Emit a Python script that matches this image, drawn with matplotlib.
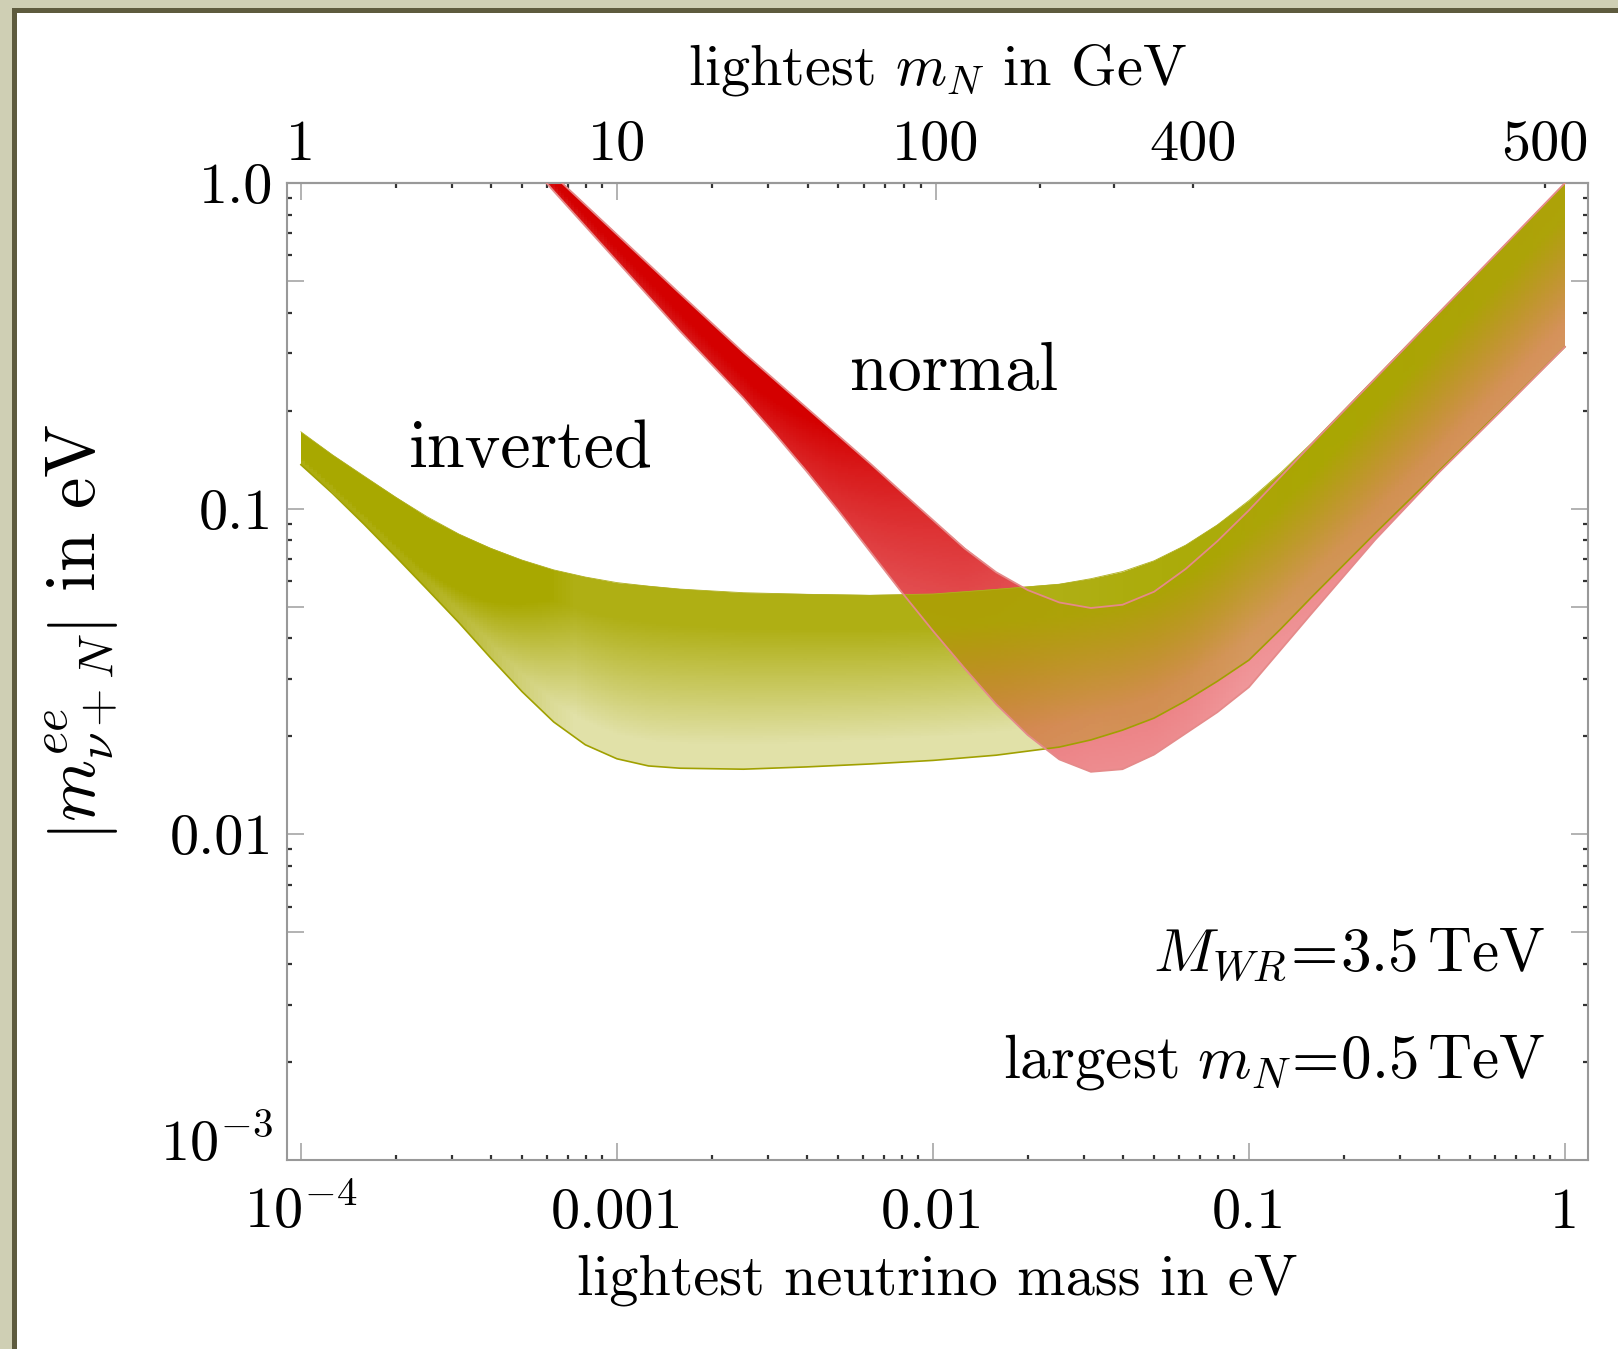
import numpy as np
import matplotlib
matplotlib.use('Agg')
import matplotlib.pyplot as plt
from matplotlib.colors import LinearSegmentedColormap
from matplotlib.patches import Rectangle

plt.rcParams['font.family'] = 'serif'
plt.rcParams['font.serif'] = ['cmr10']
plt.rcParams['mathtext.fontset'] = 'cm'
plt.rcParams['axes.unicode_minus'] = False
plt.rcParams['axes.formatter.use_mathtext'] = True

# band edges, all in log10(eV)
inv_x = [-4.0, -3.9, -3.8, -3.7, -3.6, -3.5, -3.4, -3.3, -3.2, -3.1, -3.0, -2.9, -2.8,
         -2.6, -2.4, -2.2, -2.0, -1.8, -1.6, -1.5, -1.4, -1.3, -1.2, -1.1, -1.0,
         -0.9, -0.8, -0.6, -0.4, -0.2, 0.0]
inv_upper = [-0.764, -0.835, -0.90, -0.965, -1.025, -1.078, -1.122, -1.158, -1.188, -1.21, -1.227, -1.238, -1.247,
             -1.258, -1.263, -1.266, -1.262, -1.248, -1.232, -1.215, -1.193, -1.16, -1.112, -1.05, -0.975,
             -0.89, -0.797, -0.598, -0.398, -0.20, 0.0]
inv_lower = [-0.865, -0.953, -1.048, -1.147, -1.248, -1.35, -1.458, -1.562, -1.655, -1.725, -1.768, -1.79, -1.797,
             -1.80, -1.793, -1.784, -1.773, -1.757, -1.732, -1.71, -1.68, -1.643, -1.59, -1.53, -1.465,
             -1.37, -1.27, -1.075, -0.885, -0.695, -0.503]

nor_x = [-3.3, -3.2, -3.0, -2.8, -2.6, -2.5, -2.4, -2.3, -2.2, -2.1, -2.0, -1.9, -1.8, -1.7,
         -1.6, -1.5, -1.4, -1.3, -1.2, -1.1, -1.0, -0.8, -0.6, -0.4, -0.2, 0.0]
nor_upper = [0.115, 0.024, -0.158, -0.34, -0.52, -0.605, -0.69, -0.775, -0.86, -0.948, -1.035, -1.122, -1.195, -1.25,
             -1.288, -1.305, -1.295, -1.255, -1.185, -1.10, -1.005, -0.80, -0.60, -0.40, -0.20, 0.0]
nor_lower = [0.085, -0.025, -0.24, -0.455, -0.66, -0.77, -0.885, -1.005, -1.13, -1.255, -1.375, -1.49, -1.60, -1.695,
             -1.77, -1.808, -1.80, -1.755, -1.69, -1.625, -1.548, -1.32, -1.095, -0.89, -0.698, -0.503]

# axis ticks
x_major = [1e-4, 1e-3, 1e-2, 1e-1, 1.0]
x_labels = [r'$10^{-4}$', '0.001', '0.01', '0.1', '1']
y_major = [1e-3, 5e-3, 1e-2, 5e-2, 1e-1, 5e-1, 1.0]
y_labels = [r'$10^{-3}$', '', '0.01', '', '0.1', '', '1.0']

# top axis: lightest heavy neutrino mass in GeV
largest_mN = 500.0   # GeV
dm2_atm = 2.5e-3     # eV^2
top_major = [1, 10, 100]
top_major_labels = ['1', '10', '100']
top_minor = [2, 3, 4, 5, 6, 7, 8, 9, 20, 30, 40, 50, 60, 70, 80, 90, 200, 300, 400]
top_minor_labels = [''] * 18 + ['400']
label500_at_ev = 0.865   # where the "500" label sits on the lower axis


def to_mN(m):
    m = np.asarray(m, dtype=float)
    return largest_mN * m / np.sqrt(m ** 2 + dm2_atm)


def to_mlight(mN):
    r = np.clip(np.asarray(mN, dtype=float) / largest_mN, 1e-12, 0.999999)
    return np.sqrt(dm2_atm) * r / np.sqrt(1 - r ** 2)


W, H = 1618, 1349
fig = plt.figure(figsize=(W / 100, H / 100), dpi=100)
fig.patch.set_facecolor('#cfcfb4')
fig.add_artist(Rectangle((12 / W, -0.1), 1.2, 1.1 - 8 / H, transform=fig.transFigure,
                         facecolor='#5e5b3e', edgecolor='none', zorder=0))
fig.add_artist(Rectangle((17 / W, -0.1), 1.2, 1.1 - 13 / H, transform=fig.transFigure,
                         facecolor='white', edgecolor='none', zorder=0))

ax = fig.add_axes([287 / W, 1 - 1160 / H, (1588 - 287) / W, (1160 - 183) / H])
ax.set_xscale('log')
ax.set_yscale('log')
ax.set_xlim(10 ** -4.044, 10 ** 0.073)
ax.set_ylim(1e-3, 1.0)


def draw_band(x_log, up_log, lo_log, colors, density, z):
    # shaded band: opacity depends on band width and on height inside the band
    x = 10.0 ** np.asarray(x_log)
    up = 10.0 ** np.asarray(up_log)
    lo = 10.0 ** np.asarray(lo_log)
    poly = ax.fill_between(x, lo, up, facecolor='none', edgecolor='none', zorder=z)
    gx = np.linspace(x_log[0], x_log[-1], 321)
    gy = np.linspace(min(lo_log) - 0.02, max(up_log) + 0.02, 321)
    xc = 0.5 * (gx[1:] + gx[:-1])
    yc = 0.5 * (gy[1:] + gy[:-1])
    upc = np.interp(xc, x_log, up_log)
    loc = np.interp(xc, x_log, lo_log)
    width = (upc - loc)[None, :]
    rel = np.clip((yc[:, None] - loc[None, :]) / width, 0, 1)
    A = np.clip(density(width, rel), 0, 1)
    cmap = LinearSegmentedColormap.from_list('band', colors)
    mesh = ax.pcolormesh(10 ** gx, 10 ** gy, A, cmap=cmap, vmin=0, vmax=1, zorder=z)
    mesh.set_clip_path(poly.get_paths()[0], ax.transData)
    return x, up, lo


def red_density(w, rel):
    return 0.5 + 0.5 * np.clip((0.6 - w) / 0.45, 0, 1) + 0.14 * (rel - 0.5)


def olive_density(w, rel):
    return (0.34 + 0.58 * np.clip(1.5 * rel - 0.2, 0, 1)
            + 0.6 * np.clip((0.5 - w) / 0.3, 0, 1))


# normal hierarchy (red) below, inverted (olive) on top
nx, nup, nlo = draw_band(nor_x, nor_upper, nor_lower,
                         [(0.93, 0.35, 0.40, 0.0), (0.83, 0.0, 0.0, 1.0)], red_density, 1)
ix, iup, ilo = draw_band(inv_x, inv_upper, inv_lower,
                         [(0.66, 0.66, 0.0, 0.0), (0.66, 0.66, 0.0, 1.0)], olive_density, 2)
ax.plot(ix, ilo, color='#a0a000', lw=1.2, zorder=3)
ax.plot(ix, iup, color='#b0b020', lw=0.6, zorder=3)
ax.plot(nx, nup, color='#e58a8a', lw=1.3, zorder=4)
ax.plot(nx, nlo, color='#e58a8a', lw=1.3, zorder=4)

# ticks and frame
gray = '#a6a6a6'
dark = '#333333'
ax.set_xticks(x_major)
ax.set_xticklabels(x_labels)
ax.set_yticks(y_major)
ax.set_yticklabels(y_labels)
ax.xaxis.set_minor_formatter(matplotlib.ticker.NullFormatter())
ax.yaxis.set_minor_formatter(matplotlib.ticker.NullFormatter())
ax.tick_params(which='major', direction='in', length=12, width=1.2, color=gray,
               labelsize=42, top=False, right=True)
ax.tick_params(which='minor', direction='in', length=3.5, width=1.6, color=dark,
               top=False, right=True)
ax.tick_params(axis='x', pad=49)
ax.tick_params(axis='y', pad=10)
for lbl in ax.get_xticklabels():
    lbl.set_va('baseline')
ax.get_yticklabels()[0].set_va('baseline')
for s in ax.spines.values():
    s.set_color('#999999')
    s.set_linewidth(1.5)

secax = ax.secondary_xaxis('top', functions=(to_mN, to_mlight))
secax.set_xticks(top_major, labels=top_major_labels)
secax.set_xticks(top_minor + [float(to_mN(label500_at_ev))],
                 labels=top_minor_labels + ['500'], minor=True)
secax.tick_params(which='major', direction='in', length=12, width=1.2, color=gray,
                  labelsize=42, pad=16.5)
secax.tick_params(which='minor', direction='in', length=3.5, width=1.6, color=dark,
                  labelsize=42, pad=16.5)
for lbl in secax.get_xticklabels() + secax.get_xticklabels(minor=True):
    lbl.set_va('baseline')
secax.spines['top'].set_color('#999999')
secax.spines['top'].set_linewidth(1.5)

# labels
ax.set_xlabel('lightest neutrino mass in eV', fontsize=42)
ax.xaxis.set_label_coords(0.5, (1160 - 1295) / 977)
ax.xaxis.label.set_va('baseline')
ax.set_ylabel(r'$\left|m^{ee}_{\nu+N}\right|$ in eV', fontsize=51)
ax.yaxis.set_label_coords(-0.157, 0.54)
ax.yaxis.label.set_va('center')
secax.set_xlabel(r'lightest $m_N$ in GeV', fontsize=42)
secax.xaxis.set_label_coords(0.5, (1160 - 85) / 977, transform=ax.transAxes)
secax.xaxis.label.set_va('baseline')

ax.text(0.187, 0.709, 'inverted', transform=ax.transAxes, fontsize=49,
        ha='center', va='baseline', zorder=5)
ax.text(0.513, 0.788, 'normal', transform=ax.transAxes, fontsize=49,
        ha='center', va='baseline', zorder=5)
ax.text(0.967, 0.194, r'$M_{WR}\!=\!3.5\,\mathrm{TeV}$', transform=ax.transAxes,
        fontsize=44, ha='right', va='baseline', zorder=5)
ax.text(0.967, 0.084, r'$\mathrm{largest}\ m_N\!=\!0.5\,\mathrm{TeV}$', transform=ax.transAxes,
        fontsize=44, ha='right', va='baseline', zorder=5)

fig.savefig('out.png', dpi=100, facecolor=fig.get_facecolor())
